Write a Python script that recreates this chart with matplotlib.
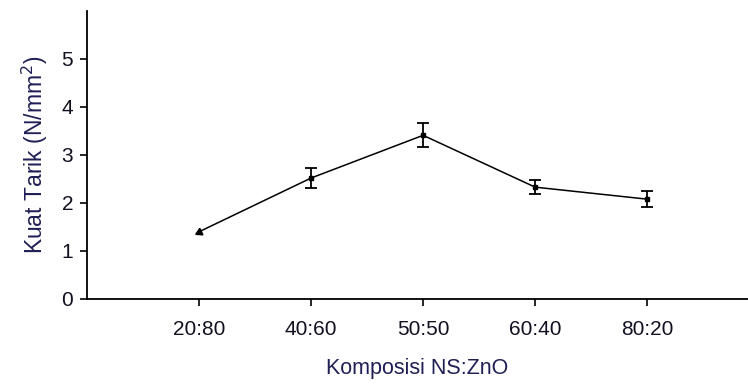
import matplotlib
matplotlib.use('Agg')
import matplotlib.pyplot as plt

# ── data ──
komposisi = ['20:80', '40:60', '50:50', '60:40', '80:20']
kuat_tarik = [1.40, 2.52, 3.41, 2.33, 2.08]
galat = [0.0, 0.20, 0.25, 0.14, 0.16]
y_ticks = [0, 1, 2, 3, 4, 5]

plt.rcParams['font.family'] = ['Liberation Sans', 'DejaVu Sans']
label_color = '#1f1f55'

fig = plt.figure(figsize=(7.48, 3.87), dpi=100)
ax = fig.add_axes([0.1163, 0.2274, 0.8837, 0.7442])

pos = list(range(1, len(komposisi) + 1))
ax.plot(pos, kuat_tarik, color='black', linewidth=1.1)
ax.errorbar(pos[1:], kuat_tarik[1:], yerr=galat[1:], fmt='none',
            ecolor='black', elinewidth=1.3, capsize=4, capthick=1.3)
ax.plot(pos[1:], kuat_tarik[1:], linestyle='none', marker='s',
        markersize=2.5, color='black')
# arrow-like marker on first point
ax.plot(pos[:1], kuat_tarik[:1], linestyle='none', marker=(3, 0, 116),
        markersize=6, color='black')

ax.set_xlim(0, 5.9)
ax.set_ylim(0, 6)
ax.set_xticks(pos)
ax.set_xticklabels(komposisi)
ax.set_yticks(y_ticks)

for side in ['top', 'right']:
    ax.spines[side].set_visible(False)
for side in ['left', 'bottom']:
    ax.spines[side].set_linewidth(1.3)

ax.tick_params(axis='both', direction='out', length=5, width=1.2,
               labelsize=15, colors='black', labelcolor='#111122')
ax.tick_params(axis='x', pad=10)
ax.tick_params(axis='y', pad=5)

ax.set_xlabel('Komposisi NS:ZnO', fontsize=15.5, color=label_color, labelpad=14)
ax.set_ylabel('Kuat Tarik (N/mm$^2$)', fontsize=16.5, color=label_color, labelpad=8)

plt.savefig('out.png', dpi=100)
